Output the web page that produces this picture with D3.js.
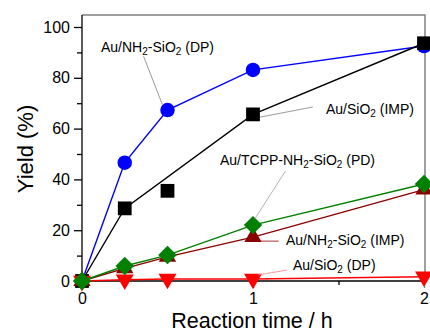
<!DOCTYPE html>
<html>
<head>
<meta charset="utf-8">
<title>Yield vs reaction time</title>
<script src="https://d3js.org/d3.v7.min.js"></script>
<style>
  body { margin: 0; background: #fff; }
  text { font-family: "Liberation Sans", Arial, sans-serif; }
</style>
</head>
<body>
<div id="chart"></div>
<script>
// reaction times (h)
const times = [0, 0.25, 0.5, 1, 2];

// yields (%)
const dpNH2  = [0, 46.6, 67.3, 83.1, 92.5];   // Au/NH2-SiO2 (DP)
const impSiO2 = [0, 28.6, 35.5, 65.6, 93.6];  // Au/SiO2 (IMP)
const pdTCPP = [0, 5.9, 10.2, 22.0, 38.2];    // Au/TCPP-NH2-SiO2 (PD)
const impNH2 = [0, 5.0, 9.5, 17.3, 36.0];     // Au/NH2-SiO2 (IMP)
const dpSiO2 = [0, 0.5, 0.8, 0.8, 1.7];       // Au/SiO2 (DP)

const yTicks = [0, 20, 40, 60, 80, 100];
const xTicks = [0, 1, 2];

const width = 430, height = 336;

const svg = d3.select("#chart").append("svg")
  .attr("width", width)
  .attr("height", height);

const x = d3.scaleLinear().domain([0, 2]).range([82, 424]);
const y = d3.scaleLinear().domain([0, 100]).range([281, 27]);
const yTop = 104.7;

// frame (top / right in gray)
svg.append("path")
  .attr("d", "M" + x(0) + "," + y(yTop) + "H" + (x(2) + 1) + "V" + y(0))
  .attr("fill", "none")
  .attr("stroke", "#808080")
  .attr("stroke-width", 1.5);

// axes
const yAxis = svg.append("g")
  .attr("transform", "translate(" + x(0) + ",0)")
  .call(d3.axisLeft(y).tickValues(yTicks).tickSize(8).tickPadding(4));
yAxis.select(".domain").attr("d", "M0," + y(yTop) + "V" + y(0));
svg.append("g")
  .attr("transform", "translate(" + x(0) + ",0)")
  .call(d3.axisLeft(y).tickValues([10, 30, 50, 70, 90]).tickSize(5).tickFormat(""))
  .select(".domain").remove();

const xAxis = svg.append("g")
  .attr("transform", "translate(0," + y(0) + ")")
  .call(d3.axisBottom(x).tickValues(xTicks).tickFormat(d3.format("d")).tickSize(7).tickPadding(5));
xAxis.select(".domain").attr("d", "M" + x(0) + ",0H" + (x(2) + 1));
xAxis.selectAll(".tick").filter(d => d === 2).select("line").attr("stroke", "#808080");
svg.append("g")
  .attr("transform", "translate(0," + y(0) + ")")
  .call(d3.axisBottom(x).tickValues([0.5, 1.5]).tickSize(4).tickFormat(""))
  .select(".domain").remove();

svg.selectAll(".tick text").attr("font-size", 16).attr("fill", "#000")
  .attr("font-family", "Liberation Sans, Arial, sans-serif");
svg.selectAll(".domain, .tick line").attr("stroke-width", 1.3);

// axis titles
svg.append("text")
  .attr("transform", "translate(33,149) rotate(-90)")
  .attr("text-anchor", "middle")
  .attr("font-size", 22)
  .text("Yield (%)");
svg.append("text")
  .attr("x", 252).attr("y", 328)
  .attr("text-anchor", "middle")
  .attr("font-size", 21.5)
  .text("Reaction time / h");

const line = d3.line().x(d => x(d[0])).y(d => y(d[1]));
const pts = vals => times.map((t, i) => [t, vals[i]]);

// square diamond (d3's own diamond is too tall)
const diamond = { draw: function(ctx, size) {
  const r = Math.sqrt(size / 2);
  ctx.moveTo(0, -r); ctx.lineTo(r, 0); ctx.lineTo(0, r); ctx.lineTo(-r, 0); ctx.closePath();
} };

function series(vals, color, shape, size, skipLine) {
  const p = pts(vals);
  const lp = p.filter((d, i) => !(skipLine || []).includes(i));
  svg.append("path")
    .attr("d", line(lp))
    .attr("fill", "none")
    .attr("stroke", color)
    .attr("stroke-width", 1.4);
  svg.append("g").selectAll("path")
    .data(p).enter().append("path")
    .attr("transform", d => "translate(" + x(d[0]) + "," + y(d[1]) + ")" + (shape === "tri-down" ? " rotate(180)" : ""))
    .attr("d", d3.symbol().type(shape === "circle" ? d3.symbolCircle
      : shape === "square" ? d3.symbolSquare
      : shape === "diamond" ? diamond : d3.symbolTriangle).size(size))
    .attr("fill", color);
}

series(dpNH2, "#0000ff", "circle", 165);
series(impSiO2, "#000000", "square", 190, [2]);
series(dpSiO2, "#ff0000", "tri-down", 140);
series(impNH2, "#8b0000", "tri-up", 130);
series(pdTCPP, "#008000", "diamond", 170);

// leader lines
const leaders = [
  [[0.36, 88.5], [0.47, 69.5], "#808080"],
  [[1.35, 68.5], [1.04, 64.5], "#808080"],
  [[1.19, 43.3], [1.01, 24.4], "#a0a0a0"],
  [[1.15, 15.7], [1.04, 15.7], "#8b0000"],
  [[1.20, 4.3], [1.03, 2.4], "#ff8080"]
];
svg.append("g").selectAll("line")
  .data(leaders).enter().append("line")
  .attr("x1", d => x(d[0][0])).attr("y1", d => y(d[0][1]))
  .attr("x2", d => x(d[1][0])).attr("y2", d => y(d[1][1]))
  .attr("stroke", d => d[2])
  .attr("stroke-width", 0.8);

// labels with subscripts: [before, sub, middle, sub, after]
const labels = [
  [101, 52, ["Au/NH", "2", "-SiO", "2", " (DP)"]],
  [326, 114, ["Au/SiO", "2", " (IMP)"]],
  [220, 165, ["Au/TCPP-NH", "2", "-SiO", "2", " (PD)"]],
  [286, 245, ["Au/NH", "2", "-SiO", "2", " (IMP)"]],
  [293, 270, ["Au/SiO", "2", " (DP)"]]
];
labels.forEach(function(l) {
  const t = svg.append("text")
    .attr("x", l[0]).attr("y", l[1])
    .attr("font-size", 14);
  l[2].forEach(function(s, i) {
    if (i % 2 === 1) {
      t.append("tspan").attr("dy", 3).attr("font-size", 10).text(s);
    } else {
      t.append("tspan").attr("dy", i === 0 ? 0 : -3).text(s);
    }
  });
});
</script>
</body>
</html>
